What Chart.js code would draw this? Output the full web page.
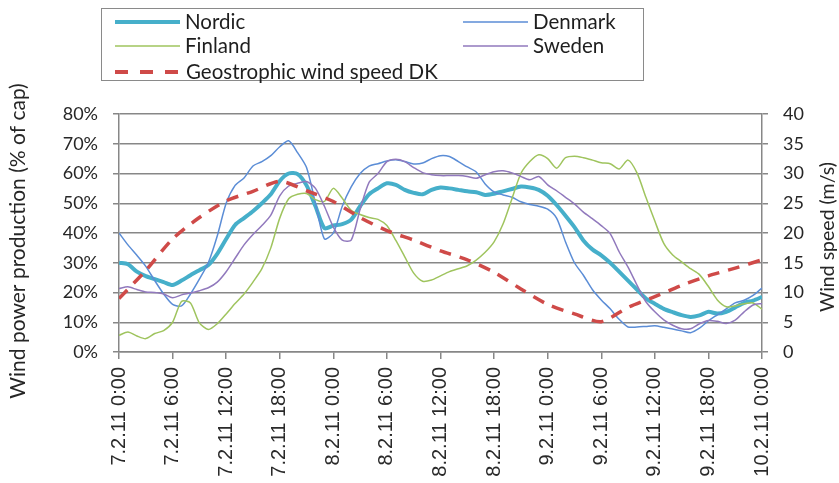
<!DOCTYPE html>
<html>
<head>
<meta charset="utf-8">
<script src="https://cdn.jsdelivr.net/npm/chart.js@4.4.1/dist/chart.umd.min.js"></script>
<style>
  html, body { margin: 0; padding: 0; background: #fff; }
  #wrap { position: relative; width: 839px; height: 483px; }
  #myChart { position: absolute; left: 0; top: 0; }
  #legend {
    position: absolute; left: 101px; top: 8px; width: 543px; height: 73px;
    border: 1px solid #8a8a8a; box-sizing: border-box;
    font-family: Lato, "Open Sans", sans-serif; font-size: 20.5px; color: #1e1e1e;
  }
  .item { position: absolute; height: 24px; line-height: 24px; white-space: nowrap; }
  .item svg { position: absolute; left: 0; top: 0; }
  .item span { position: absolute; top: -1px; }
</style>
</head>
<body>
<div id="wrap">
  <canvas id="myChart" width="839" height="483"></canvas>
  <div id="legend"></div>
</div>
<script>
// hourly production, 7.2.2011 0:00 .. 10.2.2011 0:00 (% of installed capacity)
const hours = Array.from({length: 73}, (_, i) => i);

const nordic = [30, 29.5, 27, 25.5, 24.5, 23.5, 22.5, 24, 25.8, 27.5, 29.2, 33, 38, 42.7, 45, 47.3, 50, 53, 57.5, 60,
  59.8, 56, 49, 41.6, 42.5, 43, 44.5, 49, 53, 55, 56.7, 56.2, 54.5, 53.5, 53, 54.5, 55.3, 55, 54.5, 54,
  53.7, 52.8, 53.2, 54, 54.8, 55.6, 55.3, 54.5, 52.5, 49.4, 45.8, 42, 37.5, 34.5, 32.5, 30, 27, 24, 21, 18,
  16.2, 14.5, 13.4, 12.4, 11.8, 12.3, 13.5, 12.9, 13.5, 15, 16.5, 17.3, 18.5];

const denmark = [40, 36, 32.5, 28.8, 24, 19.5, 16, 15.5, 19.5, 24.5, 30, 39, 50, 56, 58.5, 62.5, 64, 66, 69, 71,
  67, 62, 50, 38, 40, 49, 55.5, 60, 62.5, 63.3, 64.2, 64.6, 64, 63.2, 63.5, 65, 66, 65.7, 64, 62.2,
  60.5, 56.5, 53.8, 52.8, 52, 50.5, 49.6, 49, 48, 45, 37, 30, 25.8, 21, 17.5, 14.5, 11, 8.4, 8.4, 8.6,
  8.8, 8.3, 7.7, 7.1, 6.5, 8, 10.5, 12.5, 14.5, 16.5, 17.4, 19, 21.5];

const finland = [5.6, 6.7, 5.4, 4.5, 6.2, 7.2, 10, 17, 16.5, 9.8, 7.6, 9.5, 12.8, 16.3, 19.5, 23.5, 28, 35, 45, 51.5,
  53, 53.3, 51.2, 50.6, 55, 51.7, 47.6, 46.2, 45.2, 44.6, 42.5, 37.5, 32, 26.5, 23.8, 24.2, 25.6, 27, 28, 29,
  30.9, 33.5, 37, 43, 51.5, 60, 64, 66.3, 65, 61.8, 65.3, 65.8, 65.3, 64.5, 63.6, 63.3, 61.5, 64.5, 60.2, 52,
  44, 36.5, 32.6, 30.3, 28, 26, 22, 17.5, 15.2, 15.5, 16.2, 16.5, 14.4];

const sweden = [21.3, 21.9, 21, 20.2, 20, 19.5, 18.2, 19.2, 19.8, 20.6, 21.6, 23.5, 27, 31.5, 36, 39.5, 42.5, 46, 52.5, 55.8,
  56.7, 57.3, 55, 49, 42, 37.6, 37.6, 48, 57, 60, 64, 64.8, 64, 62, 60.3, 59.6, 59.3, 59.3, 59.3, 59,
  58.4, 59.6, 60.6, 60.9, 60.2, 59, 57.9, 59, 56.2, 54.2, 52, 49.8, 47, 44.8, 42.5, 39.8, 33.7, 28.5, 22.5, 16.9,
  13.5, 10.8, 9, 7.8, 7.8, 9.5, 10.6, 10.3, 9.6, 10.7, 13.5, 15.8, 16.3];

// geostrophic wind speed over Denmark, 3-hourly (m/s)
const windHours = [0, 3, 6, 9, 12, 15, 18, 21, 24, 27, 30, 33, 36, 39, 42, 45, 48, 51, 54, 57, 60, 63, 66, 69, 72];
const windSpeed = [9, 13.7, 19, 22.6, 25.4, 27, 28.7, 27.1, 25.3, 22.6, 20.4, 18.8, 17, 15.5, 13.4, 10.6, 8, 6.4, 5.1, 7.5,
  9.3, 11.2, 12.8, 14.1, 15.5];

const tickLabels = ['7.2.11 0:00', '7.2.11 6:00', '7.2.11 12:00', '7.2.11 18:00',
  '8.2.11 0:00', '8.2.11 6:00', '8.2.11 12:00', '8.2.11 18:00',
  '9.2.11 0:00', '9.2.11 6:00', '9.2.11 12:00', '9.2.11 18:00', '10.2.11 0:00'];

const leftTitle = 'Wind power production (% of cap)';
const rightTitle = 'Wind speed (m/s)';

const colors = {
  nordic: '#46afca',
  denmark: '#5b8dd6',
  finland: '#9fc45e',
  sweden: '#9179bd',
  wind: '#cf4a48'
};

function toPoints(xs, ys) {
  return xs.map((x, i) => ({x: x, y: ys[i]}));
}

const gridColor = '#878787';
const tickFont = {family: 'Lato', size: 18};

// axis titles: both read bottom-to-top
function drawTitle(ctx, text, size, x, y) {
  ctx.save();
  ctx.font = size + 'px Lato';
  ctx.fillStyle = '#262626';
  ctx.textAlign = 'center';
  ctx.textBaseline = 'middle';
  ctx.translate(x, y);
  ctx.rotate(-Math.PI / 2);
  ctx.fillText(text, 0, 0);
  ctx.restore();
}

const axisTitles = {
  id: 'axisTitles',
  afterDraw(chart) {
    drawTitle(chart.ctx, leftTitle, 21, 18, 241);
    drawTitle(chart.ctx, rightTitle, 19.5, 828, 237);
  }
};

const ctx = document.getElementById('myChart');
const myChart = new Chart(ctx, {
  type: 'line',
  data: {
    datasets: [
      {label: 'Nordic', data: toPoints(hours, nordic), borderColor: colors.nordic, borderWidth: 4, order: 5},
      {label: 'Denmark', data: toPoints(hours, denmark), borderColor: colors.denmark, borderWidth: 1.5, order: 4},
      {label: 'Finland', data: toPoints(hours, finland), borderColor: colors.finland, borderWidth: 1.5, order: 3},
      {label: 'Sweden', data: toPoints(hours, sweden), borderColor: colors.sweden, borderWidth: 1.5, order: 2},
      {label: 'Geostrophic wind speed DK', data: toPoints(windHours, windSpeed), borderColor: colors.wind,
        borderWidth: 3.5, borderDash: [12, 9], yAxisID: 'y2', order: 1}
    ]
  },
  options: {
    responsive: false,
    animation: false,
    layout: {padding: {top: 114, left: 0, right: 0, bottom: 0}},
    elements: {
      point: {radius: 0},
      line: {tension: 0.25, fill: false}
    },
    plugins: {
      legend: {display: false},
      tooltip: {enabled: false}
    },
    scales: {
      x: {
        type: 'linear',
        min: 0,
        max: 72,
        afterFit: (s) => { s.height = 131; },
        grid: {drawOnChartArea: false, color: gridColor, lineWidth: 1.5, tickLength: 7},
        border: {color: gridColor, width: 1.5},
        ticks: {
          stepSize: 6,
          autoSkip: false,
          minRotation: 90,
          maxRotation: 90,
          padding: 8,
          color: '#2a2a2a',
          font: {family: 'Liberation Sans', size: 20},
          callback: (v) => tickLabels[v / 6]
        }
      },
      y: {
        position: 'left',
        min: 0,
        max: 80,
        afterFit: (s) => { s.width = 119; },
        grid: {color: gridColor, lineWidth: 1.5, tickLength: 6},
        border: {color: gridColor, width: 1.5},
        ticks: {stepSize: 10, padding: 15, color: '#262626', font: tickFont, callback: (v) => v + '%'}
      },
      y2: {
        position: 'right',
        min: 0,
        max: 40,
        afterFit: (s) => { s.width = 77; },
        grid: {drawOnChartArea: false, color: gridColor, lineWidth: 1.5, tickLength: 6},
        border: {color: gridColor, width: 1.5},
        ticks: {stepSize: 5, padding: 15, color: '#262626', font: tickFont}
      }
    }
  },
  plugins: [axisTitles]
});

// legend box, two columns
const legendItems = [
  {text: 'Nordic', color: colors.nordic, width: 4, dash: null, left: 13, top: 1},
  {text: 'Denmark', color: colors.denmark, width: 1.5, dash: null, left: 361, top: 1},
  {text: 'Finland', color: colors.finland, width: 1.5, dash: null, left: 13, top: 25},
  {text: 'Sweden', color: colors.sweden, width: 1.5, dash: null, left: 361, top: 25},
  {text: 'Geostrophic wind speed DK', color: colors.wind, width: 4, dash: '13 12', left: 13, top: 51}
];
const legend = document.getElementById('legend');
legendItems.forEach(function(it) {
  const el = document.createElement('div');
  el.className = 'item';
  el.style.left = it.left + 'px';
  el.style.top = it.top + 'px';
  const len = it.dash ? 66 : 65;
  el.innerHTML = '<svg width="' + len + '" height="24"><line x1="0" y1="12" x2="' + len + '" y2="12" stroke="' +
    it.color + '" stroke-width="' + it.width + '"' + (it.dash ? ' stroke-dasharray="' + it.dash + '"' : '') +
    '/></svg><span style="left:' + (len + 5) + 'px">' + it.text + '</span>';
  legend.appendChild(el);
});
</script>
</body>
</html>
